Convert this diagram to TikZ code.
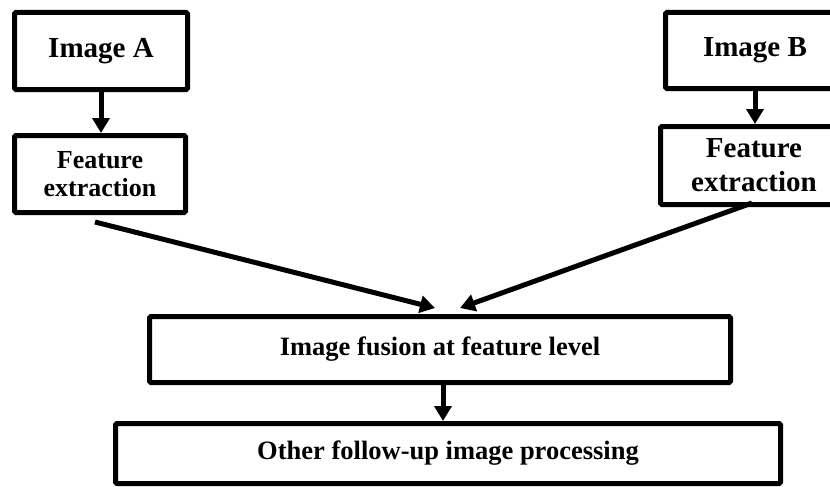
\documentclass[tikz,border=0pt]{standalone}
\usepackage{fontspec}
\setmainfont{Liberation Serif}
\usetikzlibrary{arrows.meta,calc}

\tikzset{
  blockbox/.style={draw=black, line width=5pt, rounded corners=1.5pt,
    inner sep=0pt, align=center, font=\bfseries},
  flowarrow/.style={line width=5pt, -{Triangle[length=15pt,width=17pt]}},
  bigtext/.style={font=\bfseries\fontsize{29}{34}\selectfont},
  midtext/.style={font=\bfseries\fontsize{26}{28}\selectfont},
  lowtext/.style={font=\bfseries\fontsize{26.5}{30}\selectfont}
}

\begin{document}
\begin{tikzpicture}[x=1pt,y=-1pt]
  \useasboundingbox (0,0) rectangle (830,487);
  \clip (0,0) rectangle (830,487);

  % input images
  \node[blockbox, bigtext, minimum width=173pt, minimum height=77pt]
    (imgA) at (101,51) {Image A};
  \node[blockbox, bigtext, minimum width=179pt, minimum height=76pt]
    (imgB) at (755,50.5) {Image B};

  % feature extraction stages
  \node[blockbox, midtext, minimum width=171pt, minimum height=77pt]
    (feA) at (100,174) {Feature\\extraction};
  \node[blockbox, bigtext, minimum width=187pt, minimum height=78pt]
    (feB) at (754,165.5) {Feature\\extraction};

  % fusion and post-processing
  \node[blockbox, lowtext, minimum width=581pt, minimum height=66pt]
    (fuse) at (440,349.5) {Image fusion at feature level};
  \node[blockbox, lowtext, minimum width=665pt, minimum height=60pt]
    (other) at (448,453.5) {Other follow-up image processing};

  % connectors
  \draw[flowarrow] (imgA.south) -- (imgA.south |- feA.north);
  \draw[flowarrow] (imgB.south) -- (imgB.south |- feB.north);
  \draw[flowarrow] ([shift={(-5,7)}]feA.south) -- ([shift={(-5,-6)}]fuse.north);
  \draw[flowarrow] ([shift={(-2,-4)}]feB.south) -- ([shift={(20,-6)}]fuse.north);
  \draw[flowarrow] ([xshift=3pt]fuse.south) -- ([xshift=3pt]fuse.south |- other.north);
\end{tikzpicture}
\end{document}
